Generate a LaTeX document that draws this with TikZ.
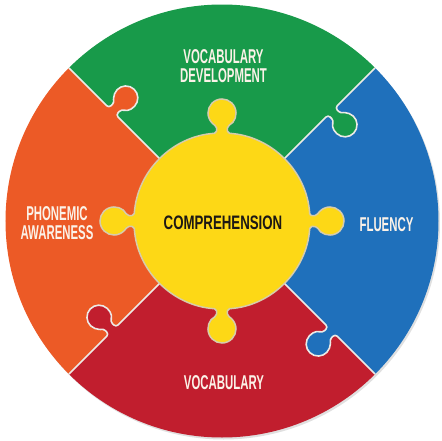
\documentclass[tikz,border=0pt]{standalone}
\usepackage{fontspec}
\newfontfamily\pzfont[FakeStretch=0.57]{Liberation Sans}
\newfontfamily\pzcorefont[FakeStretch=0.68]{Liberation Sans}
\usepackage{tikz}
\definecolor{pzgreen}{RGB}{24,154,74}
\definecolor{pzblue}{RGB}{31,112,187}
\definecolor{pzred}{RGB}{193,30,46}
\definecolor{pzorange}{RGB}{236,90,38}
\definecolor{pzyellow}{RGB}{253,216,22}
\definecolor{pzseam}{RGB}{236,234,230}
\definecolor{pzedge}{RGB}{214,204,172}
\definecolor{pzwhite}{RGB}{251,242,232}
\definecolor{pzink}{RGB}{28,24,20}
\tikzset{
pz_seam/.style = {draw=pzseam, line width=1.6pt, rounded corners=3pt},% joint entre deux pieces
pz_tab/.style = {rounded corners=3pt},% ergot d'une piece
pz_core/.style = {fill=pzyellow, draw=pzedge, line width=1.5pt, rounded corners=2pt},% piece centrale
pz_lbl/.style = {align=center, inner sep=0pt, text=pzwhite, font=\pzfont\bfseries\fontsize{20}{19}\selectfont},
pz_title/.style = {pz_lbl, text=pzink, font=\pzcorefont\bfseries\fontsize{19.5}{19}\selectfont}
}
\begin{document}
\begin{tikzpicture}[x=1pt, y=1pt]
  \useasboundingbox (-222,-219) rectangle (220,221);
  \fill[black!12] (1.5,-2) circle[radius=216.5];% ombre
  \begin{scope}
    \clip (0,0) circle[radius=216.5];
    \foreach \ang/\col in {-45/pzblue, 45/pzgreen, 135/pzorange, 225/pzred}
      \fill[\col] (0,0) -- (\ang:240) arc[start angle=\ang, end angle=\ang+90, radius=240] -- cycle;
    \foreach \ang/\col in {45/pzgreen, 135/pzorange, 225/pzred, 315/pzblue}{
      \begin{scope}[rotate=\ang]
        \fill[\col, pz_tab] (140,0) -- (150,0) -- (150,-8.09) arc[start angle=114.6, end angle=425.4, radius=12] -- (160,0) -- (170,0) -- (170,5) -- (140,5) -- cycle;
        \draw[pz_seam] (70,0) -- (150,0) -- (150,-8.09) arc[start angle=114.6, end angle=425.4, radius=12] -- (160,0) -- (240,0);
      \end{scope}}
  \end{scope}
  \path[pz_core] (3.58:88) \foreach \b in {90,180,270,360}{
      arc[start angle=\b-86.42, end angle=\b-3.58, radius=88] -- (\b-3.31:95.29)
      arc[start angle=\b-156.87, end angle=\b+156.87, radius=14] -- (\b+3.58:88)} -- cycle;
  \node[pz_title] (core) at (1,-1.5) {COMPREHENSION};
  \node[pz_lbl] (vocdev) at (1.5,154.5) {VOCABULARY\\DEVELOPMENT};
  \node[pz_lbl] (phon) at (-165,-2.5) {PHONEMIC\\AWARENESS};
  \node[pz_lbl] (flu) at (164.5,-3.5) {FLUENCY};
  \node[pz_lbl] (voc) at (2,-161.5) {VOCABULARY};
\end{tikzpicture}
\end{document}
